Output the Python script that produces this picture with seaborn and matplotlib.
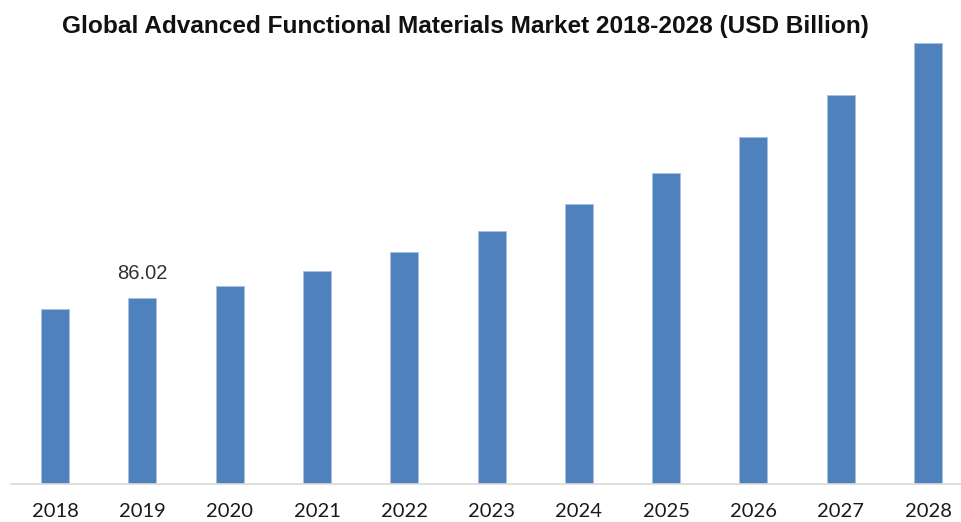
import matplotlib
matplotlib.use("Agg")
import matplotlib.pyplot as plt
import seaborn as sns
import pandas as pd

# Market size by year (USD Billion)
years = ["2018", "2019", "2020", "2021", "2022", "2023",
         "2024", "2025", "2026", "2027", "2028"]
values = [80.9, 86.02, 91.6, 98.7, 107.5, 117.2,
          129.5, 143.8, 160.5, 179.9, 204.0]
labelled_year = "2019"
title = "Global Advanced Functional Materials Market 2018-2028 (USD Billion)"

df = pd.DataFrame({"year": years, "value": values})

sns.set_theme(style="white")
plt.rcParams["font.family"] = ["Liberation Sans", "DejaVu Sans"]

W, H = 962, 522
fig = plt.figure(figsize=(W / 100, H / 100), dpi=100)
base_px = 484
left_px = 11.4
step_px = 87.3
ax = fig.add_axes([left_px / W, (H - base_px) / H,
                   (step_px * 11) / W, base_px / H])

sns.barplot(data=df, x="year", y="value", color="#4F81BD", saturation=1,
            width=0.32, edgecolor="#A9C0E0", linewidth=0.7, ax=ax)

ax.set_xlim(-0.5, 10.5)
ax.set_ylim(0, base_px / 2.162)
ax.set_xlabel("")
ax.set_ylabel("")
ax.set_yticks([])
for side in ("top", "left", "right"):
    ax.spines[side].set_visible(False)
ax.spines["bottom"].set_color("#D9D9D9")
ax.spines["bottom"].set_linewidth(1.2)
ax.tick_params(axis="x", length=0, pad=14, labelsize=14.5, labelcolor="#1a1a1a")
for lbl in ax.get_xticklabels():
    lbl.set_family(["Lato", "DejaVu Sans"])

idx = years.index(labelled_year)
ax.annotate(f"{values[idx]:.2f}", xy=(idx, values[idx]), xytext=(0, 11),
            textcoords="offset points", ha="center", va="bottom",
            fontsize=14.5, color="#333333")

# Title sized so that it spans the width above the bars
t = fig.text(465 / W, 1 - 26 / H, title, ha="center", va="center",
             fontsize=18, fontweight="bold", color="#111111",
             family=["Liberation Sans", "DejaVu Sans"])
renderer = fig.canvas.get_renderer()
w = t.get_window_extent(renderer).width
t.set_fontsize(18 * 804 / w)

fig.savefig("out.png", dpi=100, facecolor="white")
